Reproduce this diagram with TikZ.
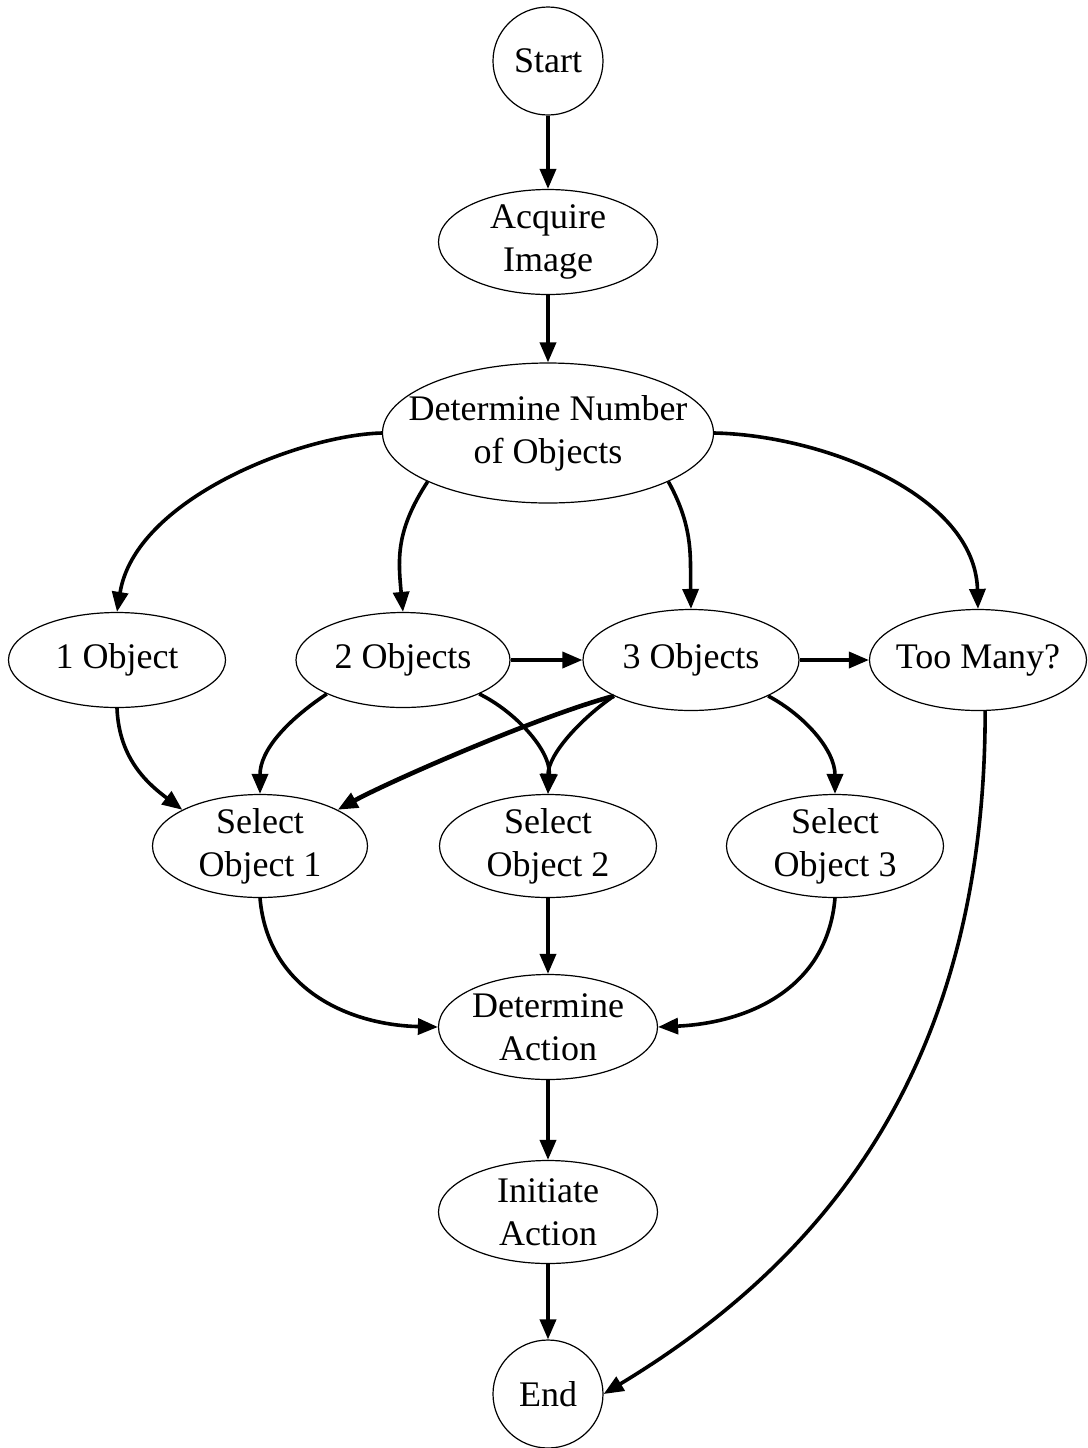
\documentclass[tikz,border=0pt]{standalone}
\usepackage{fontspec}
\setmainfont{Liberation Serif}
\usetikzlibrary{shapes.geometric,arrows.meta}

\tikzset{
  ell/.style 2 args={draw, ellipse, line width=0.6pt, inner sep=0pt,
                     minimum width=#1, minimum height=#2},
  txt/.style={align=center, inner sep=0pt, font=\fontsize{18pt}{21.5pt}\selectfont},
  arr/.style={line width=1.8pt, -{Triangle[length=10pt,width=8pt]}},
}

\begin{document}
\begin{tikzpicture}[x=0.5pt, y=-0.5pt]
\useasboundingbox (0,0) rectangle (1088,1448);

% process nodes
\node[ell={55pt}{54pt},      label={[txt]center:Start}] (start) at (548,61) {};
\node[ell={109.5pt}{52.5pt}, label={[txt]center:Acquire\\Image}] (acq) at (548,242) {};
\node[ell={165.5pt}{70pt},   label={[txt]center:Determine Number\\of Objects}] (dn) at (548,433) {};

\node[ell={108.5pt}{47.5pt}, label={[txt]center:1 Object}]  (o1) at (117,660) {};
\node[ell={107pt}{47.5pt},   label={[txt]center:2 Objects}] (o2) at (403,660) {};
\node[ell={108pt}{50.5pt},   label={[txt]center:3 Objects}] (o3) at (691,660) {};
\node[ell={108.5pt}{50.5pt}, label={[txt]center:Too Many?}] (tm) at (978,660) {};

\node[ell={107.5pt}{51.5pt}, label={[txt]center:Select\\Object 1}] (s1) at (260,846) {};
\node[ell={108.5pt}{51.5pt}, label={[txt]center:Select\\Object 2}] (s2) at (548,846) {};
\node[ell={108.5pt}{51.5pt}, label={[txt]center:Select\\Object 3}] (s3) at (835,846) {};

\node[ell={109.5pt}{52.5pt}, label={[txt]center:Determine\\Action}] (da) at (548,1027) {};
\node[ell={109.5pt}{51.5pt}, label={[txt]center:Initiate\\Action}]  (ia) at (548,1212) {};
\node[ell={55pt}{54pt},      label={[txt]center:End}] (end) at (548,1394) {};

% main spine
\draw[arr] (start.south) -- (acq.north);
\draw[arr] (acq.south) -- (dn.north);
\draw[arr] (s2.south) -- (da.north);
\draw[arr] (da.south) -- (ia.north);
\draw[arr] (ia.south) -- (end.north);

% branching on the object count
\draw[arr] (dn.west) .. controls +(-81,2) and +(18,-113) .. (o1.north);
\draw[arr] (dn.202) .. controls +(-32,49) and +(-5,-53) .. (o2.north);
\draw[arr] (dn.338) .. controls +(26,47) and +(-1,-50) .. (o3.north);
\draw[arr] (dn.east) .. controls +(107,2) and +(-3,-115) .. (tm.north);

\draw[arr] (o2.east) -- (o3.west);
\draw[arr] (o3.east) -- (tm.west);

% object selection
\draw[arr] (o1.south) .. controls +(2,52) and +(-33,-25) .. (s1.155);
\draw[arr] (o2.204) .. controls +(-39,26) and +(0,-44) .. (s1.north);
\draw[arr] (o2.336) .. controls +(35,17) and +(3,-44) .. (s2.north);
\draw[arr, line width=2.3pt] (o3.205) .. controls +(-75,20) and +(51,-28) .. (s1.25);
\draw[arr] (o3.205) .. controls +(-32,22) and +(0,-40) .. (s2.north);
\draw[arr] (o3.335) .. controls +(36,19) and +(0,-44) .. (s3.north);

% towards the action
\draw[arr] (s1.south) .. controls +(8,92) and +(-88,-2) .. (da.west);
\draw[arr] (s3.south) .. controls +(-8,92) and +(88,-4) .. (da.east);

% too many objects: straight to the end
\draw[arr] (tm.278) .. controls +(0,362) and +(215,-130) .. (end.east);
\end{tikzpicture}
\end{document}
